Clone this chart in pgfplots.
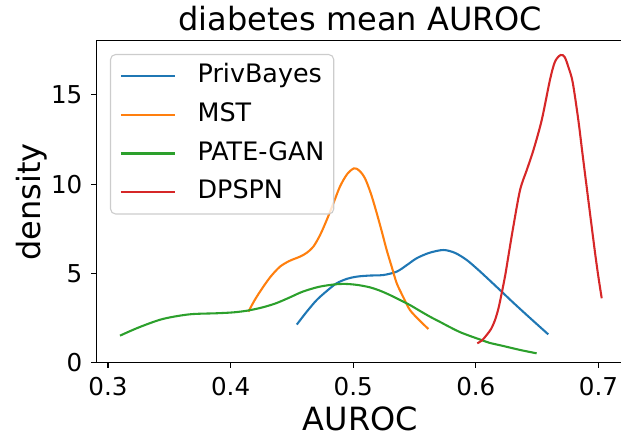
\documentclass[border=0pt]{standalone}
\usepackage{pgfplots}
\pgfplotsset{compat=1.18}
\usepackage{fontspec}
\setmainfont{DejaVu Sans}
\definecolor{c0}{HTML}{1F77B4}
\definecolor{c1}{HTML}{FF7F0E}
\definecolor{c2}{HTML}{2CA02C}
\definecolor{c3}{HTML}{D62728}
\begin{document}
\begin{tikzpicture}
\begin{axis}[
  scale only axis,
  width=264.1pt, height=161.05pt,
  xmin=0.29037, xmax=0.7212,
  ymin=0, ymax=18.02,
  xtick={0.3,0.4,0.5,0.6,0.7},
  xticklabels={0.3,0.4,0.5,0.6,0.7},
  ytick={0,5,10,15},
  yticklabels={0,5,10,15},
  tick align=outside,
  tick pos=left,
  major tick length=2.43pt,
  every tick/.style={black, line width=0.55pt},
  axis line style={line width=0.55pt, black},
  /pgf/number format/assume math mode=true,
  tick label style={font=\fontsize{12.3}{14}\selectfont},
  xticklabel style={inner sep=0pt, anchor=north, yshift=-4.5pt},
  yticklabel style={inner sep=0pt, anchor=east, xshift=-4.3pt},
  xlabel={AUROC},
  ylabel={density},
  title={diabetes mean AUROC},
  every axis title shift=0pt,
  label style={font=\fontsize{16}{19}\selectfont},
  xlabel style={at={([yshift=-33.95pt]axis description cs:0.5,0)}, anchor=base, inner sep=0pt},
  ylabel style={at={([xshift=-27.75pt]axis description cs:0,0.5)}, anchor=base, inner sep=0pt},
  title style={font=\fontsize{16}{19}\selectfont, at={([yshift=5pt]axis description cs:0.5,1)}, anchor=base, yshift=0pt, inner sep=0pt},
  legend image code/.code={\draw[#1] (0pt,0pt) -- (27.2pt,0pt);},
  legend style={
    at={([xshift=6.9pt,yshift=-6.65pt]axis description cs:0,1)}, anchor=north west,
    draw=black!20, line width=0.55pt, fill=white, fill opacity=0.8, draw opacity=1, text opacity=1,
    rounded corners=2.5pt,
    inner xsep=4.65pt, inner ysep=4.7pt,
    row sep=6.77pt, column sep=0pt,
    font=\fontsize{12.7}{15}\selectfont,
    nodes={inner sep=0pt, text height=9.5pt, text depth=3pt},
    cells={anchor=west},
  },
  legend cell align=left,
  every axis plot/.append style={line width=1.04pt, smooth},
]
\addplot[c0] coordinates {
(0.4540,2.14) (0.4620,2.85) (0.4702,3.51) (0.4785,4.02) (0.4865,4.45) (0.4950,4.70)
(0.5029,4.82) (0.5130,4.88) (0.5245,4.91) (0.5355,5.10) (0.5440,5.48) (0.5518,5.85)
(0.5620,6.15) (0.5735,6.31) (0.5830,6.15) (0.5926,5.75) (0.6020,5.20) (0.6110,4.63)
(0.6211,3.98) (0.6300,3.40) (0.6400,2.77) (0.6500,2.15) (0.6591,1.59)
};
\addlegendentry{\hspace{10.65pt}PrivBayes}
\addplot[c1] coordinates {
(0.4145,2.86) (0.4200,3.55) (0.4267,4.26) (0.4330,4.85) (0.4403,5.38) (0.4480,5.70)
(0.4566,5.94) (0.4620,6.15) (0.4675,6.50) (0.4730,7.15) (0.4784,7.99) (0.4840,8.95)
(0.4892,9.86) (0.4950,10.55) (0.5007,10.88) (0.5050,10.75) (0.5096,10.32) (0.5145,9.45)
(0.5192,8.37) (0.5233,7.35) (0.5273,6.31) (0.5315,5.35) (0.5355,4.45) (0.5410,3.65)
(0.5463,2.95) (0.5540,2.38) (0.5613,1.89)
};
\addlegendentry{\hspace{10.65pt}MST}
\addplot[c2] coordinates {
(0.3098,1.52) (0.3255,1.99) (0.3446,2.45) (0.3663,2.71) (0.3881,2.77) (0.4020,2.82)
(0.4139,2.92) (0.4260,3.10) (0.4370,3.33) (0.4480,3.65) (0.4588,3.98) (0.4720,4.25)
(0.4854,4.39) (0.4947,4.41) (0.5040,4.35) (0.5137,4.22) (0.5220,4.03) (0.5300,3.79)
(0.5380,3.52) (0.5463,3.23) (0.5545,2.90) (0.5626,2.58) (0.5710,2.28) (0.5790,1.99)
(0.5870,1.72) (0.5953,1.50) (0.6040,1.29) (0.6110,1.12) (0.6224,0.94) (0.6360,0.72)
(0.6496,0.53)
};
\addlegendentry{\hspace{10.65pt}PATE-GAN}
\addplot[c3] coordinates {
(0.6012,1.09) (0.6050,1.25) (0.6089,1.56) (0.6125,1.90) (0.6157,2.40) (0.6185,3.05)
(0.6211,3.89) (0.6240,4.90) (0.6265,5.94) (0.6306,7.62) (0.6361,9.67) (0.6416,10.79)
(0.6470,11.90) (0.6538,13.59) (0.6605,15.83) (0.6646,16.85) (0.6692,17.22) (0.6725,17.10)
(0.6754,16.57) (0.6790,15.70) (0.6836,13.59) (0.6870,11.70) (0.6904,9.85) (0.6940,7.90)
(0.6973,6.13) (0.7000,4.80) (0.7027,3.61)
};
\addlegendentry{\hspace{10.65pt}DPSPN}
\end{axis}
\pgfresetboundingbox
\path[use as bounding box] (-48.1pt,-38.1pt) rectangle (262.4pt,181.4pt);
\end{tikzpicture}
\end{document}
